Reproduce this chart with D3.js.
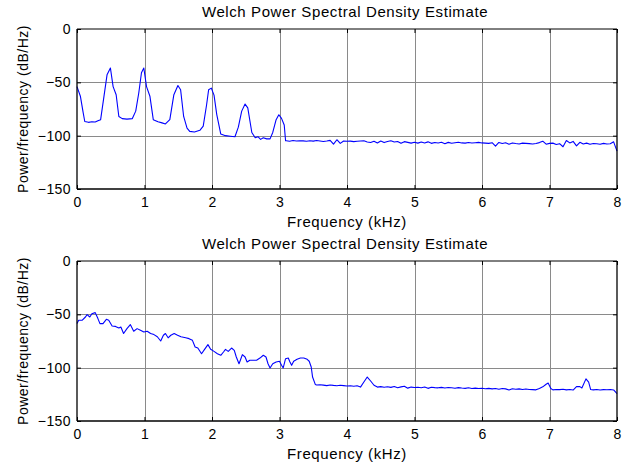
<!DOCTYPE html>
<html>
<head>
<meta charset="utf-8">
<script src="https://cdn.jsdelivr.net/npm/d3@7"></script>
<style>
  body { margin: 0; background: #fff; }
  text { font-family: Arial, "Liberation Sans", sans-serif; }
</style>
</head>
<body>
<div id="chart"></div>
<script>
// -------- Data (kHz, dB/Hz) --------
const xTicks = [0, 1, 2, 3, 4, 5, 6, 7, 8];
const yTicks = [0, -50, -100, -150];
const titleText = "Welch Power Spectral Density Estimate";
const xLabelText = "Frequency (kHz)";
const yLabelText = "Power/frequency (dB/Hz)";

// top: harmonic peaks every 0.5 kHz up to 3 kHz, then flat noise floor
const psdTop = [
  [0, -54], [0.05, -63], [0.09, -78], [0.115, -86.7], [0.17, -87.5], [0.22, -87], [0.27, -87.2],
  [0.31, -86], [0.35, -85], [0.4, -63], [0.445, -43], [0.495, -36.6], [0.535, -54], [0.58, -61.6],
  [0.62, -82], [0.67, -84], [0.74, -84.5], [0.82, -84], [0.87, -77], [0.915, -60], [0.955, -41],
  [0.99, -36.6], [1.03, -54], [1.08, -63], [1.13, -85], [1.2, -87], [1.26, -88], [1.31, -89],
  [1.375, -85], [1.435, -61.6], [1.495, -53], [1.535, -57], [1.58, -82], [1.63, -93], [1.67, -96],
  [1.74, -96.5], [1.82, -95], [1.87, -91], [1.92, -71], [1.95, -57], [1.99, -55.4], [2.03, -62],
  [2.07, -80], [2.13, -98.5], [2.2, -100], [2.27, -100.5], [2.34, -101], [2.39, -92], [2.44, -77],
  [2.49, -70.4], [2.53, -74], [2.59, -97], [2.64, -102], [2.68, -101], [2.72, -103.5], [2.76, -102],
  [2.81, -103], [2.86, -103], [2.9, -97], [2.95, -85], [2.99, -80.4], [3.03, -83.8], [3.07, -90],
  [3.09, -104.8],
  [3.10, -104.8], [3.15, -105.2], [3.20, -104.6], [3.25, -105.0], [3.30, -104.7], [3.35, -104.9],
  [3.40, -105.3], [3.45, -104.8], [3.50, -105.1], [3.55, -104.6], [3.60, -105.0], [3.65, -105.4],
  [3.70, -105.0], [3.75, -104.4], [3.80, -108.0], [3.85, -103.8], [3.90, -107.2], [3.95, -105.0],
  [4.00, -105.3], [4.05, -105.1], [4.10, -105.6], [4.15, -105.3], [4.20, -105.0], [4.25, -104.8],
  [4.30, -105.9], [4.35, -106.4], [4.40, -105.2], [4.45, -106.8], [4.50, -105.0], [4.55, -106.5],
  [4.60, -105.4], [4.65, -104.8], [4.70, -106.0], [4.75, -105.5], [4.80, -107.2], [4.85, -105.6],
  [4.90, -106.3], [4.95, -107.0], [5.00, -106.2], [5.05, -107.0], [5.10, -106.0], [5.15, -106.8],
  [5.20, -105.8], [5.25, -107.2], [5.30, -106.4], [5.35, -106.9], [5.40, -106.2], [5.45, -107.5],
  [5.50, -106.3], [5.55, -107.1], [5.60, -106.6], [5.65, -106.2], [5.70, -106.8], [5.75, -107.0],
  [5.80, -106.4], [5.85, -106.9], [5.90, -106.6], [5.95, -106.3], [6.00, -106.8], [6.05, -107.0],
  [6.10, -107.2], [6.15, -106.6], [6.20, -109.8], [6.25, -106.4], [6.30, -107.4], [6.35, -106.6],
  [6.40, -108.0], [6.45, -106.8], [6.50, -107.4], [6.55, -107.8], [6.60, -107.0], [6.65, -107.2],
  [6.70, -107.5], [6.75, -107.8], [6.80, -107.3], [6.85, -106.5], [6.90, -105.2], [6.95, -108.0],
  [7.00, -107.2], [7.05, -107.0], [7.10, -108.2], [7.15, -107.5], [7.20, -110.4], [7.25, -104.6],
  [7.30, -106.8], [7.35, -105.4], [7.40, -109.6], [7.45, -106.2], [7.50, -107.8], [7.55, -107.0],
  [7.60, -108.0], [7.65, -107.4], [7.70, -107.6], [7.75, -108.0], [7.80, -107.2], [7.85, -107.8],
  [7.90, -107.6], [7.95, -105.8], [8.00, -114.5]
];

// bottom: sloping spectrum to 3.5 kHz, then low floor with a few small peaks
const psdBottom = [
  [0, -58.7], [0.025, -55.6], [0.075, -55.6], [0.125, -52.5], [0.15, -50.3], [0.19, -52.5],
  [0.22, -49.4], [0.27, -48.4], [0.31, -54], [0.34, -58.7], [0.385, -58.7], [0.435, -54.7],
  [0.47, -55.6], [0.52, -61], [0.57, -61.3], [0.62, -62.8], [0.65, -61.9], [0.69, -68],
  [0.74, -63.4], [0.79, -59.6], [0.84, -65.8], [0.89, -63.4], [0.94, -64.9], [0.99, -66.5],
  [1.04, -65.8], [1.09, -68], [1.14, -69], [1.19, -71], [1.24, -75], [1.28, -69.6], [1.31, -68],
  [1.35, -72], [1.39, -69.6], [1.44, -68], [1.49, -69.6], [1.54, -71], [1.61, -72], [1.66, -72.8],
  [1.71, -74.4], [1.75, -80.6], [1.79, -81.6], [1.845, -86.9], [1.89, -82.8], [1.94, -78.4],
  [1.98, -82.8], [2.03, -84.7], [2.08, -86.9], [2.13, -88.4], [2.17, -85.3], [2.2, -82.8],
  [2.24, -84.7], [2.29, -81.6], [2.33, -83.8], [2.36, -90], [2.4, -96.3], [2.42, -93],
  [2.45, -87.8], [2.49, -90], [2.52, -94.7], [2.56, -93], [2.61, -93], [2.66, -93], [2.71, -91],
  [2.76, -88.4], [2.8, -90], [2.83, -96.3], [2.86, -100.3], [2.9, -96.3], [2.95, -94.7],
  [3.0, -94], [3.03, -97.8], [3.055, -100.3], [3.09, -91.6], [3.13, -91], [3.155, -94.7],
  [3.18, -97.8], [3.21, -94], [3.26, -92.2], [3.31, -91], [3.36, -91], [3.41, -92.2],
  [3.44, -94], [3.47, -99.4], [3.49, -108.8], [3.53, -115.7],
  [3.55, -116.2], [3.60, -116.0], [3.65, -116.4], [3.70, -116.8], [3.75, -116.2], [3.80, -116.6],
  [3.85, -116.9], [3.90, -116.5], [3.95, -116.8], [4.00, -117.2], [4.05, -116.9], [4.10, -117.4],
  [4.15, -117.0], [4.20, -118.2], [4.25, -113.5], [4.30, -108.8], [4.35, -112.5], [4.40, -116.5],
  [4.45, -118.2], [4.50, -117.8], [4.55, -118.3], [4.60, -117.9], [4.65, -118.5], [4.70, -117.6],
  [4.75, -118.8], [4.80, -118.0], [4.85, -117.4], [4.90, -119.2], [4.95, -118.2], [5.00, -118.6],
  [5.05, -118.3], [5.10, -118.8], [5.15, -118.1], [5.20, -119.4], [5.25, -118.4], [5.30, -118.7],
  [5.35, -118.9], [5.40, -118.5], [5.45, -119.0], [5.50, -118.6], [5.55, -118.9], [5.60, -119.3],
  [5.65, -118.7], [5.70, -119.1], [5.75, -119.4], [5.80, -118.8], [5.85, -119.5], [5.90, -119.2],
  [5.95, -119.6], [6.00, -119.3], [6.05, -119.8], [6.10, -119.4], [6.15, -119.9], [6.20, -119.5],
  [6.25, -120.2], [6.30, -119.6], [6.35, -119.9], [6.40, -121.0], [6.45, -119.7], [6.50, -120.2],
  [6.55, -119.9], [6.60, -120.4], [6.65, -120.0], [6.70, -120.5], [6.75, -120.6], [6.80, -120.8],
  [6.85, -119.5], [6.90, -118.0], [6.95, -115.5], [6.98, -114.4], [7.02, -119.5], [7.05, -120.8],
  [7.10, -120.4], [7.15, -120.6], [7.20, -120.3], [7.25, -120.8], [7.30, -120.4], [7.35, -121.0],
  [7.40, -117.8], [7.45, -117.8], [7.48, -119.0], [7.54, -110.5], [7.58, -113.5], [7.61, -120.5],
  [7.65, -120.8], [7.70, -120.4], [7.75, -120.9], [7.80, -120.6], [7.85, -120.7], [7.90, -120.4],
  [7.95, -120.9], [8.00, -124.4]
];

// -------- Layout --------
const W = 632, H = 465;
const left = 77, right = 617;

const panels = [
  { data: psdTop, top: 29, bottom: 189 },
  { data: psdBottom, top: 261, bottom: 421 }
];

const svg = d3.select("#chart").append("svg")
  .attr("width", W)
  .attr("height", H);

svg.append("rect").attr("width", W).attr("height", H).attr("fill", "#fff");

const x = d3.scaleLinear().domain([0, 8]).range([left, right]);

panels.forEach(p => drawPanel(p));

function drawPanel(p) {
  const y = d3.scaleLinear().domain([-150, 0]).range([p.bottom, p.top]);
  const g = svg.append("g");

  // grid
  g.append("g")
    .selectAll("line.vx")
    .data(xTicks.slice(1, -1))
    .join("line")
    .attr("x1", d => Math.round(x(d)) + 0.5)
    .attr("x2", d => Math.round(x(d)) + 0.5)
    .attr("y1", p.top)
    .attr("y2", p.bottom)
    .attr("stroke", "#8a8a8a")
    .attr("stroke-width", 1);

  g.append("g")
    .selectAll("line.hy")
    .data(yTicks.slice(1, -1))
    .join("line")
    .attr("x1", left)
    .attr("x2", right)
    .attr("y1", d => Math.round(y(d)) + 0.5)
    .attr("y2", d => Math.round(y(d)) + 0.5)
    .attr("stroke", "#8a8a8a")
    .attr("stroke-width", 1);

  // series
  const line = d3.line().x(d => x(d[0])).y(d => y(d[1]));
  g.append("path")
    .datum(p.data)
    .attr("d", line)
    .attr("fill", "none")
    .attr("stroke", "#0000ff")
    .attr("stroke-width", 1.1)
    .attr("stroke-linejoin", "round");

  // axes (MATLAB style: ticks inside, box on)
  const tick = 4;
  const axB = d3.axisBottom(x).tickValues(xTicks).tickSize(-tick).tickPadding(8).tickFormat(d3.format("d"));
  const axT = d3.axisTop(x).tickValues(xTicks).tickSize(-tick).tickFormat("");
  const axL = d3.axisLeft(y).tickValues(yTicks).tickSize(-tick).tickPadding(6).tickFormat(d3.format("d"));
  const axR = d3.axisRight(y).tickValues(yTicks).tickSize(-tick).tickFormat("");

  const styleAxis = sel => {
    sel.select(".domain").attr("stroke", "#000").attr("stroke-width", 1.3);
    sel.selectAll(".tick line").attr("stroke", "#000");
    sel.selectAll(".tick text")
      .attr("fill", "#000")
      .style("font-size", "14px")
      .style("letter-spacing", "0.4px");
  };

  g.append("g").attr("transform", `translate(0,${p.bottom})`).call(axB).call(styleAxis)
    .call(s => s.select(".domain").attr("d", `M${left},0H${right}`));
  g.append("g").attr("transform", `translate(0,${p.top})`).call(axT).call(styleAxis)
    .call(s => s.select(".domain").attr("d", `M${left},0H${right}`).attr("stroke-width", 1));
  g.append("g").attr("transform", `translate(${left},0)`).call(axL).call(styleAxis)
    .call(s => s.select(".domain").attr("d", `M0,${p.top}V${p.bottom}`));
  g.append("g").attr("transform", `translate(${right},0)`).call(axR).call(styleAxis)
    .call(s => s.select(".domain").attr("d", `M0,${p.top}V${p.bottom}`));

  // texts
  g.append("text")
    .attr("x", (left + right) / 2 - 2)
    .attr("y", p.top - 12)
    .attr("text-anchor", "middle")
    .style("font-size", "15px")
    .style("letter-spacing", "0.6px")
    .text(titleText);

  g.append("text")
    .attr("x", (left + right) / 2)
    .attr("y", p.bottom + 38)
    .attr("text-anchor", "middle")
    .style("font-size", "15px")
    .style("letter-spacing", "0.6px")
    .text(xLabelText);

  g.append("text")
    .attr("transform", `translate(28,${(p.top + p.bottom) / 2}) rotate(-90)`)
    .attr("text-anchor", "middle")
    .style("font-size", "14px")
    .style("letter-spacing", "0.5px")
    .text(yLabelText);
}
</script>
</body>
</html>
